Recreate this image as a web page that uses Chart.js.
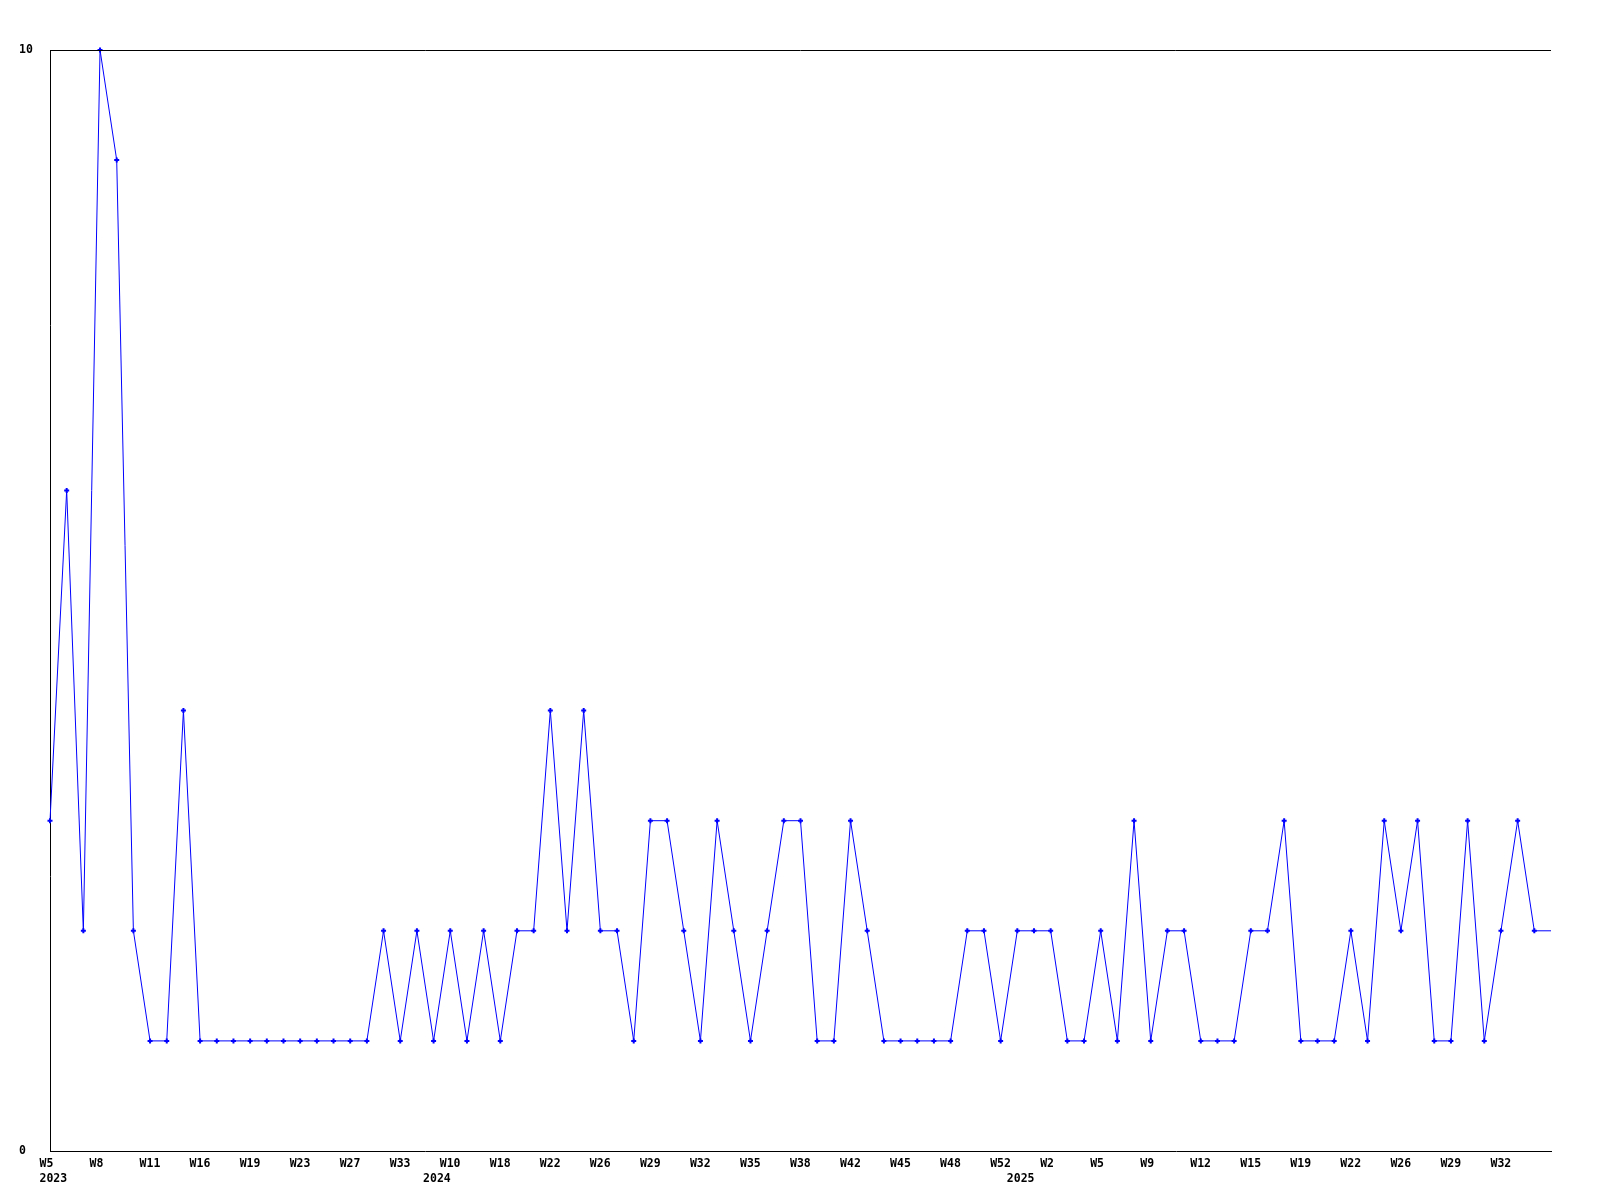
<!DOCTYPE html>
<html>
<head>
<meta charset="utf-8">
<script src="https://cdn.jsdelivr.net/npm/chart.js@4/dist/chart.umd.min.js"></script>
<style>
  html, body { margin: 0; padding: 0; background: #ffffff; }
  #wrap { width: 1600px; height: 1200px; }
</style>
</head>
<body>
<div id="wrap"><canvas id="c" width="1600" height="1200"></canvas></div>
<script>
// ---- data ----
const weeks = [
  'W5','W6','W7','W8','W9','W10','W11','W13','W14','W16',
  'W17','W18','W19','W20','W22','W23','W24','W25','W27','W29',
  'W31','W33','W40','W7','W10','W13','W16','W18','W19','W21',
  'W22','W24','W25','W26','W27','W28','W29','W30','W31','W32',
  'W33','W34','W35','W36','W37','W38','W40','W41','W42','W43',
  'W44','W45','W46','W47','W48','W50','W51','W52','W0','W1',
  'W2','W3','W4','W5','W7','W8','W9','W10','W11','W12',
  'W13','W14','W15','W17','W18','W19','W20','W21','W22','W24',
  'W25','W26','W27','W28','W29','W30','W31','W32','W33','W34',
  'W35'
];
const years = [
  2023,2023,2023,2023,2023,2023,2023,2023,2023,2023,
  2023,2023,2023,2023,2023,2023,2023,2023,2023,2023,
  2023,2023,2023,2024,2024,2024,2024,2024,2024,2024,
  2024,2024,2024,2024,2024,2024,2024,2024,2024,2024,
  2024,2024,2024,2024,2024,2024,2024,2024,2024,2024,
  2024,2024,2024,2024,2024,2024,2024,2024,2025,2025,
  2025,2025,2025,2025,2025,2025,2025,2025,2025,2025,
  2025,2025,2025,2025,2025,2025,2025,2025,2025,2025,
  2025,2025,2025,2025,2025,2025,2025,2025,2025,2025,
  2025
];
const values = [
  3,6,2,10,9,2,1,1,4,1,
  1,1,1,1,1,1,1,1,1,1,
  2,1,2,1,2,1,2,1,2,2,
  4,2,4,2,2,1,3,3,2,1,
  3,2,1,2,3,3,1,1,3,2,
  1,1,1,1,1,2,2,1,2,2,
  2,1,1,2,1,3,1,2,2,1,
  1,1,2,2,3,1,1,1,2,1,
  3,2,3,1,1,3,1,2,3,2,
  2
];
const yTicks = [0, 10];
const labelEvery = 3;

const FONT = { family: "'DejaVu Sans Mono', monospace", size: 11.5, weight: 'bold', lineHeight: 1.35 };
const lastIdx = values.length - 1;

const topBorder = {
  id: 'topBorder',
  afterDraw(chart) {
    const { ctx, chartArea } = chart;
    ctx.save();
    ctx.strokeStyle = '#000000';
    ctx.lineWidth = 1;
    ctx.beginPath();
    ctx.moveTo(chartArea.left, Math.round(chartArea.top) + 0.5);
    ctx.lineTo(chartArea.right, Math.round(chartArea.top) + 0.5);
    ctx.stroke();
    ctx.restore();
  }
};

new Chart(document.getElementById('c'), {
  type: 'line',
  data: {
    labels: weeks.map((w, i) => w + ' ' + years[i]),
    datasets: [{
      data: values,
      borderColor: '#0000ff',
      backgroundColor: '#0000ff',
      borderWidth: 1,
      tension: 0,
      fill: false,
      pointStyle: 'cross',
      pointRadius: (ctx) => ctx.dataIndex === lastIdx ? 0 : 2.5,
      pointBorderWidth: 2,
      pointBorderColor: '#0000ff',
      clip: false
    }]
  },
  options: {
    responsive: false,
    animation: false,
    events: [],
    layout: { padding: { top: 50, right: 49, bottom: 0, left: 19 } },
    plugins: { legend: { display: false }, tooltip: { enabled: false } },
    scales: {
      x: {
        type: 'category',
        offset: false,
        grid: { display: false, drawTicks: false },
        border: { display: true, color: '#000000', width: 1 },
        afterFit(scale) { scale.height = 49; },
        ticks: {
          autoSkip: false,
          maxRotation: 0,
          minRotation: 0,
          align: 'start',
          labelOffset: -10.5,
          padding: 5,
          color: '#000000',
          font: FONT,
          callback(val, idx) {
            const wk = (idx % labelEvery === 0 && idx !== lastIdx) ? weeks[idx] : '';
            const newYear = idx === 0 || years[idx] !== years[idx - 1];
            if (newYear) return [wk, String(years[idx])];
            return wk;
          }
        }
      },
      y: {
        min: 0,
        max: 10,
        grid: { display: false, drawTicks: false },
        border: { display: true, color: '#000000', width: 1 },
        afterFit(scale) { scale.width = 31; },
        afterBuildTicks(scale) { scale.ticks = yTicks.map(v => ({ value: v })); },
        ticks: {
          crossAlign: 'far',
          padding: 0,
          color: '#000000',
          font: FONT
        }
      }
    }
  },
  plugins: [topBorder]
});
</script>
</body>
</html>
